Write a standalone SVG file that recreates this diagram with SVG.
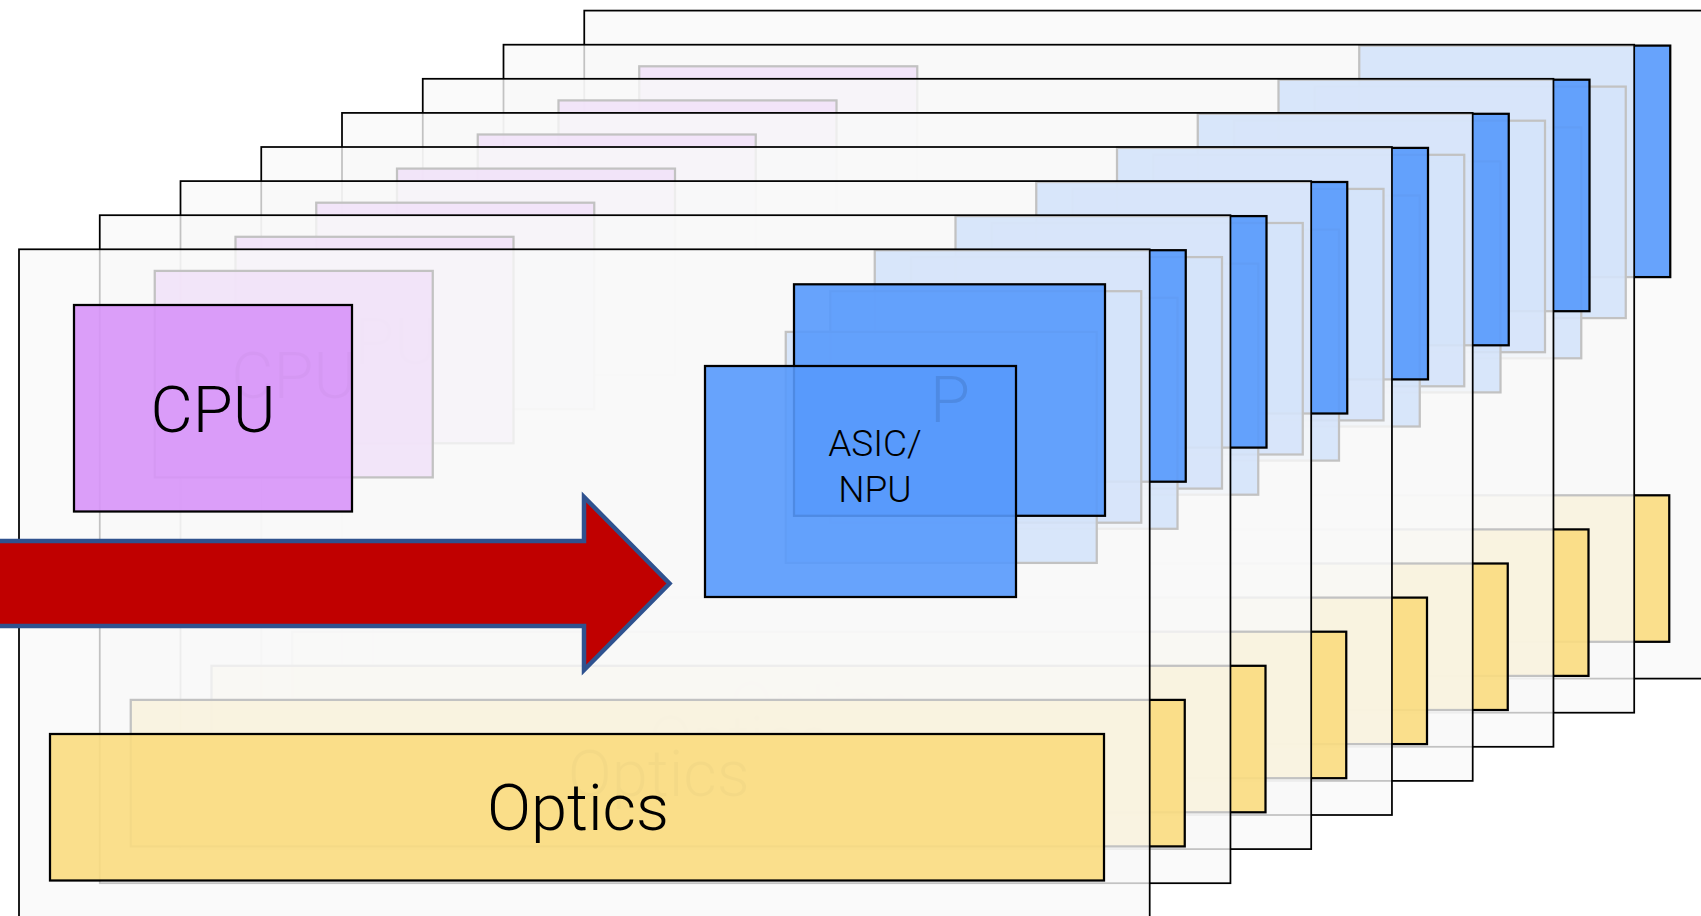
<svg xmlns="http://www.w3.org/2000/svg" width="1701" height="916" viewBox="0 0 1701 916">
<defs>
<style>
.board{fill:#f8f8f8;fill-opacity:.78;stroke:#000;stroke-width:1.75}
.cpu{fill:#d793f8;fill-opacity:.9;stroke:#000;stroke-width:2.25}
.npu{fill:#5699fc;fill-opacity:.9;stroke:#000;stroke-width:2.25}
.opt{fill:#f9db7f;fill-opacity:.9;stroke:#000;stroke-width:2.25}
.lbl{font-family:Roboto,"Liberation Sans",sans-serif;font-weight:300;fill:#000;text-anchor:middle}
.big{font-size:65px}
.small{font-size:37px}
.arrow{fill:#c00000;stroke:#2f528f;stroke-width:4.5;stroke-miterlimit:10}
</style>
</defs>
<rect width="1701" height="916" fill="#fff"/>

<g id="board-7" transform="translate(565.25,-238.7)">
<rect class="board" x="19" y="249.3" width="1130.7" height="668"/>
<rect class="cpu" x="74" y="305" width="278" height="206.5"/>
<rect class="npu" x="794" y="284.3" width="311" height="231.5"/>
<rect class="npu" x="749.5" y="325.3" width="311" height="231.5"/>
<rect class="npu" x="705" y="366" width="311" height="231"/>
<rect class="opt" x="50" y="734" width="1054" height="146.5"/>
</g>
<g id="board-6" transform="translate(484.5,-204.6)">
<rect class="board" x="19" y="249.3" width="1130.7" height="668"/>
<rect class="cpu" x="74" y="305" width="278" height="206.5"/>
<rect class="npu" x="794" y="284.3" width="311" height="231.5"/>
<rect class="npu" x="749.5" y="325.3" width="311" height="231.5"/>
<rect class="npu" x="705" y="366" width="311" height="231"/>
<rect class="opt" x="50" y="734" width="1054" height="146.5"/>
</g>
<g id="board-5" transform="translate(403.75,-170.5)">
<rect class="board" x="19" y="249.3" width="1130.7" height="668"/>
<rect class="cpu" x="74" y="305" width="278" height="206.5"/>
<rect class="npu" x="794" y="284.3" width="311" height="231.5"/>
<rect class="npu" x="749.5" y="325.3" width="311" height="231.5"/>
<rect class="npu" x="705" y="366" width="311" height="231"/>
<rect class="opt" x="50" y="734" width="1054" height="146.5"/>
</g>
<g id="board-4" transform="translate(323,-136.4)">
<rect class="board" x="19" y="249.3" width="1130.7" height="668"/>
<rect class="cpu" x="74" y="305" width="278" height="206.5"/>
<rect class="npu" x="794" y="284.3" width="311" height="231.5"/>
<rect class="npu" x="749.5" y="325.3" width="311" height="231.5"/>
<rect class="npu" x="705" y="366" width="311" height="231"/>
<rect class="opt" x="50" y="734" width="1054" height="146.5"/>
</g>
<g id="board-3" transform="translate(242.25,-102.3)">
<rect class="board" x="19" y="249.3" width="1130.7" height="668"/>
<rect class="cpu" x="74" y="305" width="278" height="206.5"/>
<text class="lbl big" x="213" y="432">CPU</text>
<rect class="npu" x="794" y="284.3" width="311" height="231.5"/>
<rect class="npu" x="749.5" y="325.3" width="311" height="231.5"/>
<rect class="npu" x="705" y="366" width="311" height="231"/>
<rect class="opt" x="50" y="734" width="1054" height="146.5"/>
<text class="lbl big" x="578" y="830">Optics</text>
</g>
<g id="board-2" transform="translate(161.5,-68.2)">
<rect class="board" x="19" y="249.3" width="1130.7" height="668"/>
<rect class="cpu" x="74" y="305" width="278" height="206.5"/>
<text class="lbl big" x="213" y="432">CPU</text>
<rect class="npu" x="794" y="284.3" width="311" height="231.5"/>
<rect class="npu" x="749.5" y="325.3" width="311" height="231.5"/>
<rect class="npu" x="705" y="366" width="311" height="231"/>
<rect class="opt" x="50" y="734" width="1054" height="146.5"/>
<text class="lbl big" x="578" y="830">Optics</text>
</g>
<g id="board-1" transform="translate(80.75,-34.1)">
<rect class="board" x="19" y="249.3" width="1130.7" height="668"/>
<rect class="cpu" x="74" y="305" width="278" height="206.5"/>
<text class="lbl big" x="213" y="432">CPU</text>
<rect class="npu" x="794" y="284.3" width="311" height="231.5"/>
<rect class="npu" x="749.5" y="325.3" width="311" height="231.5"/>
<rect class="npu" x="705" y="366" width="311" height="231"/>
<rect class="opt" x="50" y="734" width="1054" height="146.5"/>
<text class="lbl big" x="578" y="830">Optics</text>
</g>
<g id="board-0">
<rect class="board" x="19" y="249.3" width="1130.7" height="668"/>
<g id="cpu">
<rect class="cpu" x="74" y="305" width="278" height="206.5"/>
<text class="lbl big" x="213" y="432">CPU</text>
</g>
<g id="npu-back">
<rect class="npu" x="794" y="284.3" width="311" height="231.5"/>
<text class="lbl big" x="950" y="422">P</text>
</g>
<g id="asic-npu">
<rect class="npu" x="705" y="366" width="311" height="231"/>
<text class="lbl small" x="875" y="456">ASIC/</text>
<text class="lbl small" x="875" y="501.7">NPU</text>
</g>
<g id="optics">
<rect class="opt" x="50" y="734" width="1054" height="146.5"/>
<text class="lbl big" x="578" y="830">Optics</text>
</g>
</g>

<g id="connectors">
<polygon class="arrow" points="-10,541 584,541 584,497 669.5,583.5 584,670 584,626 -10,626"/>
</g>
</svg>
